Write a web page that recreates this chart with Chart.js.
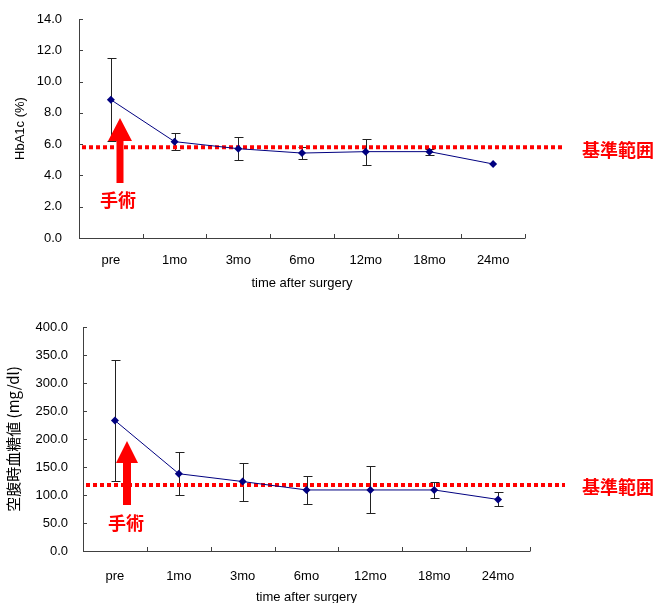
<!DOCTYPE html>
<html>
<head>
<meta charset="utf-8">
<script src="https://cdn.jsdelivr.net/npm/chart.js@4.4.1/dist/chart.umd.min.js"></script>
<style>
  html, body { margin: 0; padding: 0; background: #fff; }
  #box1 { position: absolute; left: 0; top: 0; width: 655px; height: 305px; }
  #box2 { position: absolute; left: 0; top: 305px; width: 655px; height: 298px; }
</style>
</head>
<body>
<div id="box1"><canvas id="hba1cChart" width="655" height="305"></canvas></div>
<div id="box2"><canvas id="fbsChart" width="655" height="298"></canvas></div>
<script>
// datos
const categories = ['pre', '1mo', '3mo', '6mo', '12mo', '18mo', '24mo'];

const hba1cMean = [8.84, 6.16, 5.71, 5.43, 5.52, 5.52, 4.73];
const hba1cSD   = [2.65, 0.55, 0.73, 0.37, 0.84, 0.19, 0];
const hba1cRef  = 5.8;

const fbsMean = [233, 138, 124, 109, 109, 109, 92];
const fbsSD   = [108, 38, 34, 25, 42, 15, 12.5];
const fbsRef  = 118;

const NAVY = '#000080';
const RED = '#ff0000';
const AXIS = '#404040';
const FONT = "'Liberation Sans', 'Noto Sans CJK JP', sans-serif";
const JP = "'Noto Sans CJK JP', sans-serif";

// plugin: barras de error, línea de referencia, flecha y textos
const extrasPlugin = {
  id: 'extras',
  beforeDatasetsDraw(chart, args, opts) {
    const ctx = chart.ctx;
    const y = chart.scales.y;
    const area = chart.chartArea;
    ctx.save();

    // ejes y marcas interiores
    ctx.strokeStyle = AXIS;
    ctx.lineWidth = 1;
    ctx.beginPath();
    ctx.moveTo(area.left + 0.5, area.top);
    ctx.lineTo(area.left + 0.5, area.bottom + 0.5);
    ctx.lineTo(area.right + 0.5, area.bottom + 0.5);
    y.ticks.forEach(t => {
      const py = Math.round(y.getPixelForValue(t.value)) + 0.5;
      ctx.moveTo(area.left, py);
      ctx.lineTo(area.left + 4, py);
    });
    const step = (area.right - area.left) / categories.length;
    for (let i = 1; i <= categories.length; i++) {
      const px = Math.round(area.left + step * i) + 0.5;
      ctx.moveTo(px, area.bottom);
      ctx.lineTo(px, area.bottom - 4);
    }
    ctx.stroke();

    // barras de error
    const meta = chart.getDatasetMeta(0);
    ctx.strokeStyle = '#222';
    ctx.beginPath();
    opts.sd.forEach((s, i) => {
      if (!s) return;
      const m = chart.data.datasets[0].data[i];
      const px = Math.round(meta.data[i].x) + 0.5;
      const top = Math.round(y.getPixelForValue(m + s)) + 0.5;
      const bot = Math.round(y.getPixelForValue(m - s)) + 0.5;
      ctx.moveTo(px, top); ctx.lineTo(px, bot);
      ctx.moveTo(px - 4, top); ctx.lineTo(px + 5, top);
      ctx.moveTo(px - 4, bot); ctx.lineTo(px + 5, bot);
    });
    ctx.stroke();

    // línea de referencia punteada
    const ry = y.getPixelForValue(opts.ref);
    ctx.strokeStyle = RED;
    ctx.lineWidth = 4;
    ctx.setLineDash([4, 3]);
    ctx.beginPath();
    ctx.moveTo(area.left + 3, ry);
    ctx.lineTo(opts.lineEnd, ry);
    ctx.stroke();
    ctx.restore();
  },
  afterDraw(chart, args, opts) {
    const ctx = chart.ctx;
    const a = opts.arrow;
    ctx.save();
    ctx.fillStyle = RED;
    ctx.beginPath();
    ctx.moveTo(a.x, a.tip);
    ctx.lineTo(a.x + a.head, a.base);
    ctx.lineTo(a.x + a.shaft, a.base);
    ctx.lineTo(a.x + a.shaft, a.bottom);
    ctx.lineTo(a.x - a.shaft, a.bottom);
    ctx.lineTo(a.x - a.shaft, a.base);
    ctx.lineTo(a.x - a.head, a.base);
    ctx.closePath();
    ctx.fill();

    ctx.font = 'bold 18px ' + JP;
    ctx.textAlign = 'center';
    ctx.textBaseline = 'middle';
    ctx.fillText('手術', opts.surgery.x, opts.surgery.y);
    ctx.fillText('基準範囲', opts.refLabel.x, opts.refLabel.y);
    ctx.restore();
  }
};

function makeChart(id, cfg) {
  return new Chart(document.getElementById(id), {
    type: 'line',
    data: {
      labels: categories,
      datasets: [{
        data: cfg.mean,
        borderColor: NAVY,
        borderWidth: 1,
        backgroundColor: NAVY,
        pointStyle: 'rectRot',
        pointRadius: 4,
        pointBorderWidth: 0,
        tension: 0
      }]
    },
    options: {
      responsive: false,
      animation: false,
      layout: { padding: cfg.padding },
      plugins: {
        legend: { display: false },
        tooltip: { enabled: false },
        extras: cfg.extras
      },
      scales: {
        x: {
          offset: true,
          grid: { display: false, drawTicks: false },
          border: { display: false },
          ticks: { color: '#000', font: { family: FONT, size: 13 }, padding: cfg.xTickPad, maxRotation: 0 },
          title: {
            display: true, text: 'time after surgery', color: '#000',
            font: { family: FONT, size: 13, lineHeight: cfg.xTitleLH },
            padding: { top: 0, bottom: cfg.xTitlePad }
          },
          afterFit: s => { s.height = cfg.xHeight; }
        },
        y: {
          min: 0, max: cfg.max,
          grid: { display: false, drawTicks: false },
          border: { display: false },
          ticks: {
            stepSize: cfg.step, color: '#000', padding: cfg.yTickPad,
            font: { family: FONT, size: 13 },
            callback: v => v.toFixed(1)
          },
          title: {
            display: true, text: cfg.yTitle, color: '#000',
            font: { family: cfg.yFont, size: cfg.yTitleSize, lineHeight: 1 },
            padding: { top: cfg.yTitlePad, bottom: 0 }
          },
          afterFit: s => {
            s.width = cfg.yWidth;
            // que la etiqueta superior no empuje el área del gráfico
            s.paddingTop = 0;
            s.paddingBottom = 0;
          }
        }
      }
    },
    plugins: [extrasPlugin]
  });
}

makeChart('hba1cChart', {
  mean: hba1cMean, max: 14, step: 2,
  yTitle: 'HbA1c (%)', yFont: FONT, yTitleSize: 13, yTitlePad: 14,
  padding: { left: 0, top: 19, right: 130, bottom: 0 },
  xHeight: 67, yWidth: 79, xTickPad: 15, yTickPad: 17, xTitlePad: 15, xTitleLH: 1,
  extras: {
    sd: hba1cSD, ref: hba1cRef, lineEnd: 565,
    arrow: { x: 120, tip: 118, base: 141, bottom: 183, head: 12, shaft: 3.5 },
    surgery: { x: 118, y: 200 },
    refLabel: { x: 618, y: 150 }
  }
});

makeChart('fbsChart', {
  mean: fbsMean, max: 400, step: 50,
  yTitle: '空腹時血糖値 (mg/dl)', yFont: JP, yTitleSize: 15, yTitlePad: 6,
  padding: { left: 0, top: 22, right: 125, bottom: 0 },
  xHeight: 52, yWidth: 83, xTickPad: 18, yTickPad: 15, xTitlePad: 0, xTitleLH: 0.8,
  extras: {
    sd: fbsSD, ref: fbsRef, lineEnd: 565,
    arrow: { x: 127, tip: 136, base: 158, bottom: 200, head: 11, shaft: 4 },
    surgery: { x: 126, y: 218 },
    refLabel: { x: 618, y: 182 }
  }
});
</script>
</body>
</html>
